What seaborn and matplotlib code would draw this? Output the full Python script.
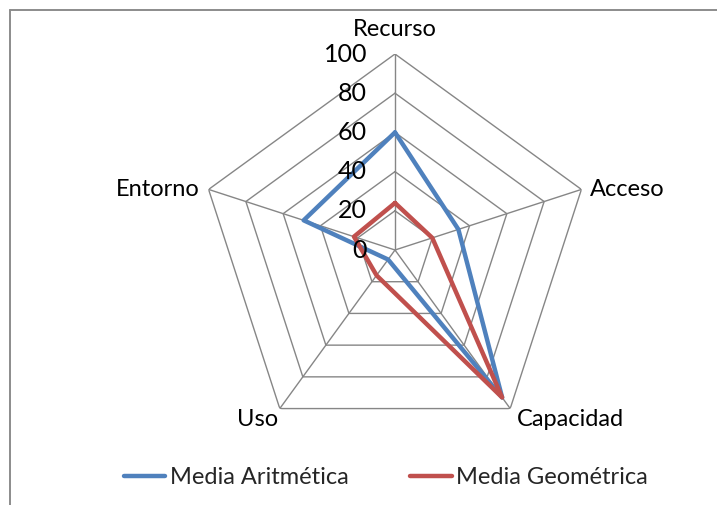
import numpy as np
import pandas as pd
import matplotlib
matplotlib.use("Agg")
import matplotlib.pyplot as plt
import matplotlib.transforms as mtransforms
from matplotlib.lines import Line2D
import seaborn as sns

categories = ["Recurso", "Acceso", "Capacidad", "Uso", "Entorno"]
media_aritmetica = [60, 34, 93, 6, 49]
media_geometrica = [24, 20, 93, 16, 22]
series_names = ["Media Aritmética", "Media Geométrica"]
ring_values = [0, 20, 40, 60, 80, 100]
colors = ["#4F81BD", "#C0504D"]

sns.set_theme(style="white")
plt.rcParams["font.family"] = ["Lato", "DejaVu Sans"]

n = len(categories)
angles = np.arange(n) * 2 * np.pi / n

# long-form table, each series closed back on its first category
rows = []
for name, vals in zip(series_names, [media_aritmetica, media_geometrica]):
    for i in list(range(n)) + [0]:
        rows.append({"theta": angles[i], "value": vals[i], "serie": name})
df = pd.DataFrame(rows)

W, H = 717, 505
fig = plt.figure(figsize=(W / 100, H / 100), dpi=100)
cx, cy, R = 395, 250, 196
ax = fig.add_axes([(cx - R) / W, (H - cy - R) / H, 2 * R / W, 2 * R / H], projection="polar")
ax.set_theta_offset(np.pi / 2)
ax.set_theta_direction(-1)
ax.set_ylim(0, 100)
ax.grid(False)
ax.spines["polar"].set_visible(False)
ax.set_xticks([])
ax.set_yticks([])
ax.patch.set_alpha(0)

# pentagon web
closed = np.append(angles, angles[0])
for v in ring_values[1:]:
    ax.plot(closed, [v] * (n + 1), color="#868686", lw=1.0, zorder=1)
for a in angles:
    ax.plot([a, a], [0, 100], color="#868686", lw=1.0, zorder=1)

sns.lineplot(data=df, x="theta", y="value", hue="serie", sort=False,
             palette=colors, linewidth=3.2, ax=ax, zorder=3, estimator=None)
ax.set_xlabel("")
ax.set_ylabel("")
handles, labels = ax.get_legend_handles_labels()
ax.get_legend().remove()

# radial value labels along the first axis
off = mtransforms.offset_copy(ax.transData, fig=fig, x=-20, y=0, units="points")
for v in ring_values:
    ax.text(0, v, str(v), transform=off, ha="right", va="center", fontsize=18, color="black", zorder=4)

# category labels
label_specs = {
    "Recurso": dict(dx=0, dy=14, ha="center", va="bottom"),
    "Acceso": dict(dx=9, dy=0, ha="left", va="center"),
    "Capacidad": dict(dx=7, dy=-11, ha="left", va="center"),
    "Uso": dict(dx=-2, dy=-11, ha="right", va="center"),
    "Entorno": dict(dx=-9, dy=0, ha="right", va="center"),
}
for a, cat in zip(angles, categories):
    s = label_specs[cat]
    tr = mtransforms.offset_copy(ax.transData, fig=fig, x=s["dx"] * 0.72, y=s["dy"] * 0.72, units="points")
    ax.text(a, 100, cat, transform=tr, ha=s["ha"], va=s["va"], fontsize=17, color="black")

fig.legend(handles, labels, loc="center", bbox_to_anchor=(386 / W, 1 - 478 / H),
           ncol=2, frameon=False, fontsize=17, handlelength=1.75, handletextpad=0.2,
           columnspacing=2.6)

# chart frame
fig.add_artist(Line2D([9.5 / W, 9.5 / W], [0, 1 - 10 / H], transform=fig.transFigure, color="#8c8c8c", lw=1.4))
fig.add_artist(Line2D([9.5 / W, 1], [1 - 10 / H, 1 - 10 / H], transform=fig.transFigure, color="#8c8c8c", lw=1.4))

fig.savefig("out.png", dpi=100, facecolor="white")
